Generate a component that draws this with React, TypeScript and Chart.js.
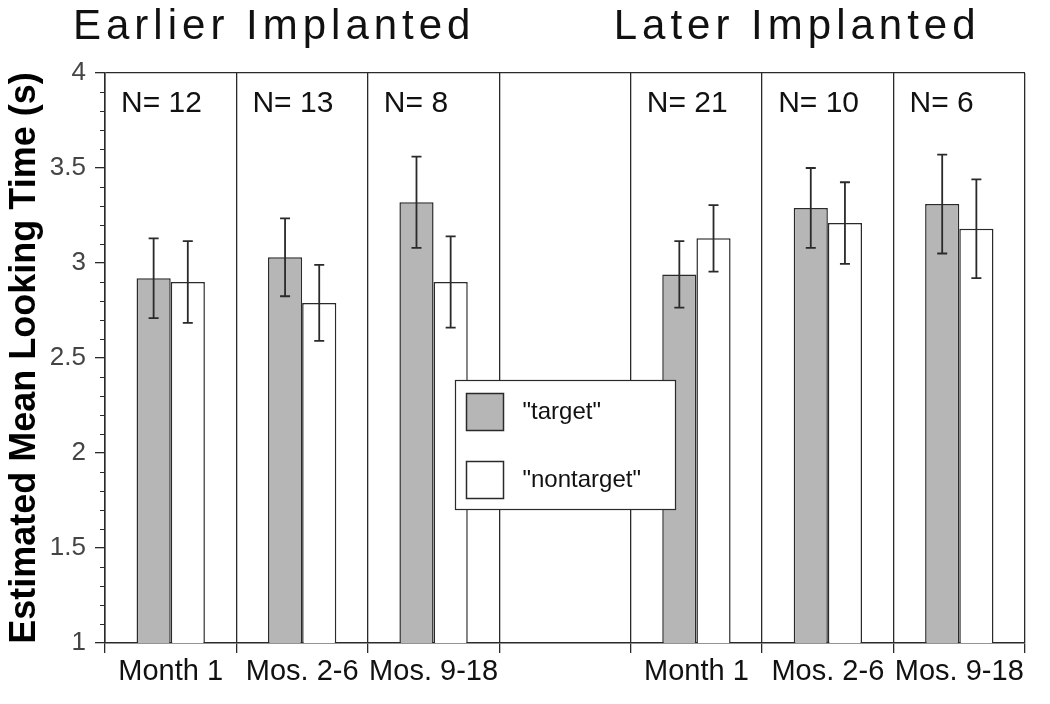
import React, { useEffect, useRef } from "react";
import { Chart, registerables } from "chart.js";

Chart.register(...registerables);

const categories = ["Month 1", "Mos. 2-6", "Mos. 9-18", "", "Month 1", "Mos. 2-6", "Mos. 9-18"];
const nLabels = ["N= 12", "N= 13", "N= 8", "", "N= 21", "N= 10", "N= 6"];
const targetValues = [2.92, 3.03, 3.32, null, 2.94, 3.29, 3.31];
const targetErrors = [0.21, 0.205, 0.24, null, 0.175, 0.21, 0.26];
const nontargetValues = [2.9, 2.79, 2.9, null, 3.13, 3.21, 3.18];
const nontargetErrors = [0.215, 0.2, 0.24, null, 0.175, 0.215, 0.26];
const groupTitles = ["Earlier Implanted", "Later Implanted"];
const yTitle = "Estimated Mean Looking Time (s)";
const seriesLabels = ['"target"', '"nontarget"'];

const FONT = "'Liberation Sans', Arial, sans-serif";
const INK = "#2a2a2a";

const errorBarPlugin = {
  id: "errorBars",
  afterDatasetsDraw(chart: any) {
    const ctx = chart.ctx;
    const y = chart.scales.y;
    const errs = [targetErrors, nontargetErrors];
    ctx.save();
    ctx.strokeStyle = INK;
    ctx.lineWidth = 1.8;
    chart.data.datasets.forEach((ds: any, di: number) => {
      const meta = chart.getDatasetMeta(di);
      meta.data.forEach((bar: any, i: number) => {
        const v = ds.data[i];
        const e = errs[di][i];
        if (v == null || e == null) return;
        const yt = y.getPixelForValue(v + e);
        const yb = y.getPixelForValue(v - e);
        const x = bar.x;
        ctx.beginPath();
        ctx.moveTo(x, yt);
        ctx.lineTo(x, yb);
        ctx.moveTo(x - 5, yt);
        ctx.lineTo(x + 5, yt);
        ctx.moveTo(x - 5, yb);
        ctx.lineTo(x + 5, yb);
        ctx.stroke();
      });
    });
    ctx.restore();
  },
};

const decorPlugin = {
  id: "decor",
  afterDraw(chart: any) {
    const ctx = chart.ctx;
    const xs = chart.scales.x;
    const ys = chart.scales.y;
    const area = chart.chartArea;
    const slot = (area.right - area.left) / categories.length;
    ctx.save();
    // minor ticks on y axis
    ctx.strokeStyle = INK;
    ctx.lineWidth = 1;
    for (let k = 10; k <= 40; k++) {
      if (k % 5 === 0) continue;
      const py = Math.round(ys.getPixelForValue(k / 10)) + 0.5;
      ctx.beginPath();
      ctx.moveTo(area.left - 5, py);
      ctx.lineTo(area.left, py);
      ctx.stroke();
    }
    // N labels
    ctx.fillStyle = "#111";
    ctx.font = `30px ${FONT}`;
    ctx.textAlign = "left";
    ctx.textBaseline = "alphabetic";
    nLabels.forEach((t, i) => {
      if (!t) return;
      const left = xs.getPixelForValue(i) - slot / 2;
      ctx.fillText(t, left + 16, area.top + 39);
    });
    // group titles
    ctx.font = `42px ${FONT}`;
    (ctx as any).letterSpacing = "5px";
    ctx.fillStyle = "#111";
    const t0Left = xs.getPixelForValue(0) - slot / 2 - 32;
    const t1Left = xs.getPixelForValue(4) - slot / 2 - 17;
    ctx.fillText(groupTitles[0], t0Left, 39);
    ctx.fillText(groupTitles[1], t1Left, 39);
    (ctx as any).letterSpacing = "0px";
    // legend box
    const cx = xs.getPixelForValue(3);
    const bw = 220;
    const bh = 129;
    const bx = Math.round(cx - bw / 2) + 0.5;
    const by = Math.round(ys.getPixelForValue(2.385)) + 0.5;
    ctx.fillStyle = "#ffffff";
    ctx.fillRect(bx, by, bw, bh);
    ctx.strokeStyle = INK;
    ctx.lineWidth = 1.2;
    ctx.strokeRect(bx, by, bw, bh);
    chart.data.datasets.forEach((ds: any, i: number) => {
      const sy = by + 13 + i * 68;
      ctx.fillStyle = ds.backgroundColor;
      ctx.fillRect(bx + 11, sy, 37, 37);
      ctx.strokeStyle = INK;
      ctx.lineWidth = 1.5;
      ctx.strokeRect(bx + 11, sy, 37, 37);
      ctx.fillStyle = "#111";
      ctx.font = `24px ${FONT}`;
      ctx.textBaseline = "middle";
      ctx.fillText(seriesLabels[i], bx + 67, sy + 19);
    });
    ctx.restore();
  },
};

export default function App() {
  const ref = useRef<HTMLCanvasElement | null>(null);
  useEffect(() => {
    if (!ref.current) return;
    const chart = new Chart(ref.current, {
      type: "bar",
      data: {
        labels: categories,
        datasets: [
          {
            label: seriesLabels[0],
            data: targetValues as any,
            backgroundColor: "#b6b6b6",
            borderColor: INK,
            borderWidth: 1.5,
            categoryPercentage: 0.52,
            barPercentage: 1,
          },
          {
            label: seriesLabels[1],
            data: nontargetValues as any,
            backgroundColor: "#ffffff",
            borderColor: INK,
            borderWidth: 1.5,
            categoryPercentage: 0.52,
            barPercentage: 1,
          },
        ],
      },
      options: {
        responsive: false,
        animation: false,
        layout: { padding: { top: 73, right: 25, left: 0, bottom: 0 } },
        plugins: { legend: { display: false }, tooltip: { enabled: false } },
        scales: {
          x: {
            afterFit: (s: any) => {
              s.height = 61;
            },
            grid: {
              offset: true,
              color: INK,
              lineWidth: 1.3,
              tickLength: 10,
              drawOnChartArea: true,
            },
            border: { display: true, color: INK, width: 1.5 },
            ticks: {
              color: "#111",
              font: { family: FONT, size: 29 },
              padding: 2,
              autoSkip: false,
              maxRotation: 0,
            },
          },
          y: {
            min: 1,
            max: 4,
            afterFit: (s: any) => {
              s.width = 105;
            },
            title: {
              display: true,
              text: yTitle,
              color: "#000",
              font: { family: FONT, size: 36, weight: "bold" },
              padding: { top: 3, bottom: 0 },
            },
            grid: {
              color: (c: any) => (c.tick && c.tick.value === 4 ? INK : "rgba(0,0,0,0)"),
              tickColor: INK,
              lineWidth: 1.3,
              tickLength: 10,
              drawOnChartArea: true,
            },
            border: { display: true, color: INK, width: 1.5 },
            ticks: {
              stepSize: 0.5,
              color: "#444",
              font: { family: FONT, size: 26 },
              padding: 9,
              callback: (v: any) => String(Number(v)),
            },
          },
        },
      },
      plugins: [errorBarPlugin, decorPlugin],
    });
    return () => chart.destroy();
  }, []);
  return (
    <div style={{ position: "fixed", left: 0, top: 0, width: 1050, height: 704, background: "#fff" }}>
      <canvas ref={ref} width={1050} height={704} style={{ display: "block" }} />
    </div>
  );
}
